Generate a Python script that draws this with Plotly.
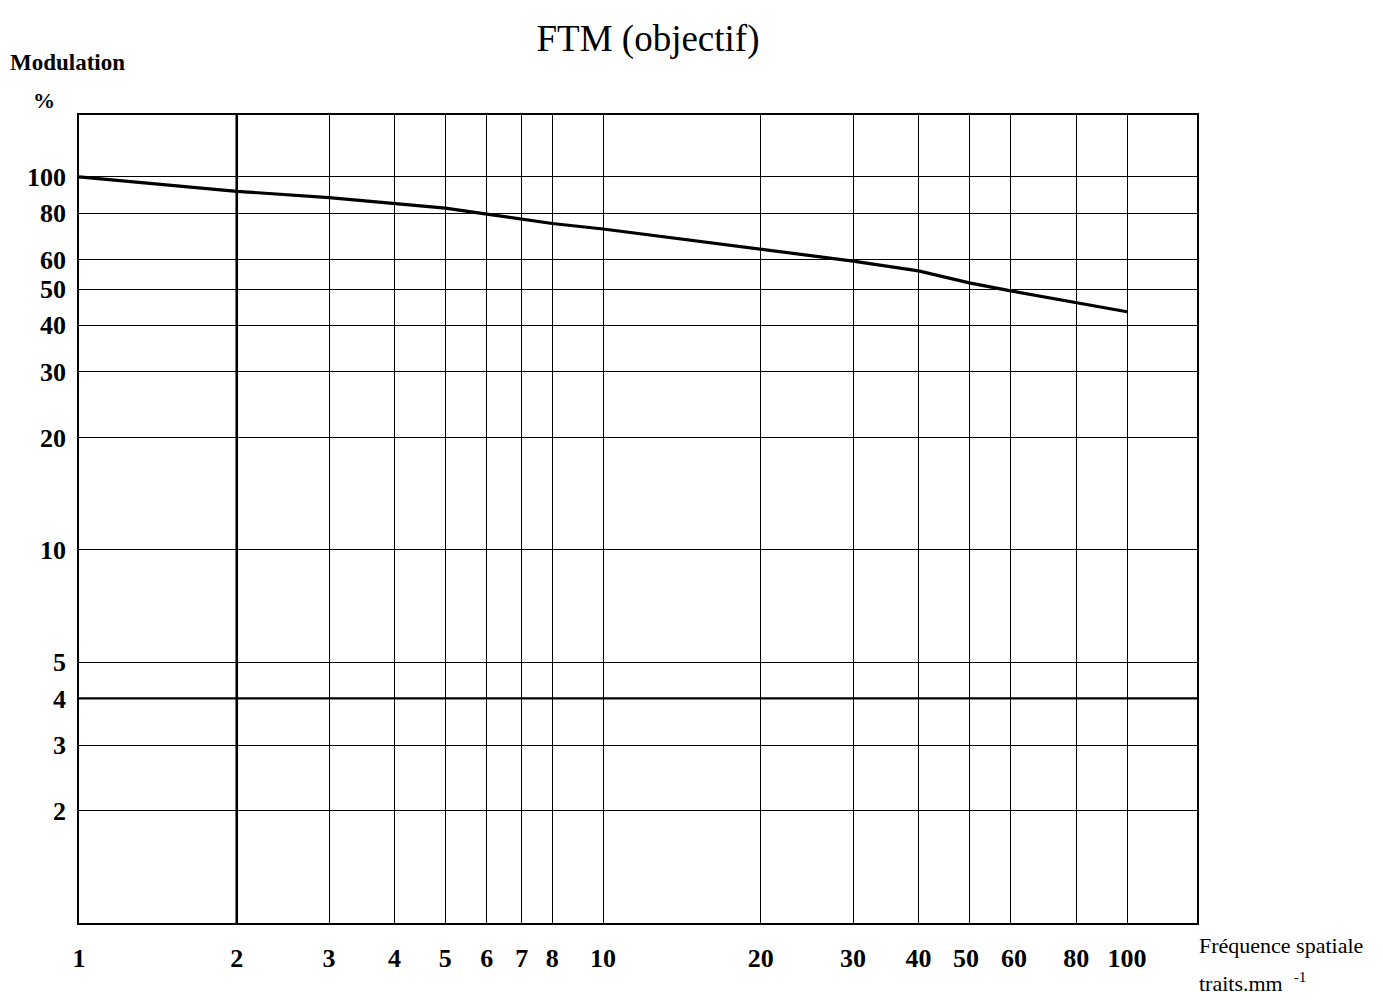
import plotly.graph_objects as go

# Data (spatial frequency in lines/mm, modulation in %)
freq = [1, 2, 3, 4, 5, 6, 7, 8, 10, 20, 30, 40, 50, 60, 80, 100]
modulation = [100, 91.5, 88, 85, 82.5, 79.5, 77, 75, 72.5, 64, 59.5, 56, 52, 49.5, 46, 43.5]

x_ticks = [1, 2, 3, 4, 5, 6, 7, 8, 10, 20, 30, 40, 50, 60, 80, 100]
x_ticklabels = ["1", "2", "3", "4", "5", "6", "7", "8", "10", "20", "30", "40", "50 ", " 60", "80", "100"]
y_ticks = [2, 3, 4, 5, 10, 20, 30, 40, 50, 60, 80, 100]
y_ticklabels = [str(v) for v in y_ticks]

heavy_x = [2]
heavy_y = [4]

FONT = "Liberation Serif"

# page body adds an 8px margin; work in screen coordinates and subtract it
OFF = 8
W, H = 1383 - 2 * OFF, 1003 - 2 * OFF
SL, SR, ST, SB = 79, 1197, 115, 923          # plot area in screen pixels
L, R, T, B = SL - OFF, SR - OFF, ST - OFF, SB - OFF

def px(xs):
    return (xs - SL) / (SR - SL)

def py(ys):
    return (SB - ys) / (SB - ST)

fig = go.Figure()
fig.add_trace(go.Scatter(
    x=freq, y=modulation, mode="lines",
    line=dict(color="black", width=3.2),
    showlegend=False, hoverinfo="x+y"))

for xv in heavy_x:
    fig.add_shape(type="line", xref="x", yref="paper", x0=xv, x1=xv, y0=0, y1=1,
                  line=dict(color="black", width=2.6), layer="above")
for yv in heavy_y:
    fig.add_shape(type="line", xref="paper", yref="y", x0=0, x1=1, y0=yv, y1=yv,
                  line=dict(color="black", width=2.4), layer="above")

annotations = [
    dict(text="<b>Modulation</b>", x=px(8), y=py(62), xanchor="left", yanchor="middle",
         font=dict(size=23, family=FONT, color="black")),
    dict(text="<b>%</b>", x=px(44), y=py(100), xanchor="center", yanchor="middle",
         font=dict(size=22, family=FONT, color="black")),
    dict(text="Fréquence spatiale", x=px(1197), y=py(946), xanchor="left", yanchor="middle",
         font=dict(size=22, family=FONT, color="black")),
    dict(text="traits.mm  <sup>-1</sup>", x=px(1197), y=py(982), xanchor="left", yanchor="middle",
         font=dict(size=22, family=FONT, color="black")),
]
for a in annotations:
    a.update(xref="paper", yref="paper", showarrow=False)

fig.update_layout(
    width=W, height=H,
    margin=dict(l=L, r=W - R, t=T, b=H - B, autoexpand=False),
    paper_bgcolor="white", plot_bgcolor="white",
    title=dict(text="FTM (objectif)", x=(648 - OFF) / W, xanchor="center",
               y=1 - (38 - OFF) / H, yanchor="middle",
               font=dict(size=37, family=FONT, color="black")),
    annotations=annotations,
    font=dict(family=FONT, color="black"),
)
fig.update_xaxes(
    type="log", range=[0, 2.1335], tickvals=x_ticks, ticktext=x_ticklabels,
    showgrid=True, gridcolor="black", gridwidth=1.4, zeroline=False,
    showline=True, linecolor="black", linewidth=1.8, mirror=True,
    ticks="", ticklabelstandoff=11,
    tickfont=dict(size=26, family=FONT, color="black", weight="bold"),
)
fig.update_yaxes(
    type="log", range=[0, 2.166], tickvals=y_ticks, ticktext=y_ticklabels,
    showgrid=True, gridcolor="black", gridwidth=1.4, zeroline=False,
    showline=True, linecolor="black", linewidth=1.8, mirror=True,
    ticks="", ticklabelstandoff=6,
    tickfont=dict(size=26, family=FONT, color="black", weight="bold"),
)

fig.write_html("out.html")
